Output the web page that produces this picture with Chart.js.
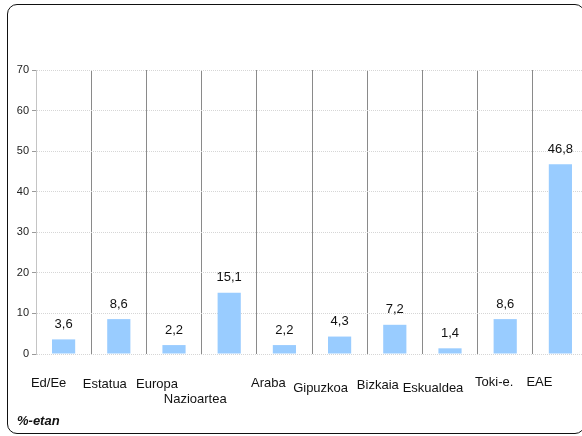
<!DOCTYPE html>
<html>
<head>
<meta charset="utf-8">
<script src="https://cdn.jsdelivr.net/npm/chart.js@4"></script>
<style>
  html, body { margin: 0; padding: 0; background: #fff; overflow: hidden; }
  #wrap { position: relative; width: 600px; height: 436px; }
  #frame {
    position: absolute; left: 7px; top: 4px; width: 576px; height: 428px;
    border: 1.5px solid #111; border-radius: 10px; pointer-events: none;
  }
  #unit {
    position: absolute; left: 17px; top: 413px;
    font: italic bold 13px "Liberation Sans", Arial, sans-serif; color: #111;
  }
</style>
</head>
<body>
<div id="wrap">
  <canvas id="myChart" width="600" height="436"></canvas>
  <div id="frame"></div>
  <div id="unit">%-etan</div>
</div>
<script>
const categories = ['Ed/Ee', 'Estatua', 'Europa', 'Nazioartea', 'Araba', 'Gipuzkoa', 'Bizkaia', 'Eskualdea', 'Toki-e.', 'EAE'];
const values = [3.6, 8.6, 2.2, 15.1, 2.2, 4.3, 7.2, 1.4, 8.6, 46.8];
const yTicks = [0, 10, 20, 30, 40, 50, 60, 70];

// where each category label sits relative to its bar (the original is staggered)
const labelShift = [[-15, 29], [-14, 30], [-17, 30], [-34, 45], [-16, 29], [-19, 34], [-17, 31], [-17, 34], [-11, 28], [-21, 28]];

const FONT = '"Liberation Sans", Arial, sans-serif';

const valueLabels = {
  id: 'valueLabels',
  afterDatasetsDraw(chart) {
    const ctx = chart.ctx;
    const meta = chart.getDatasetMeta(0);
    ctx.save();
    ctx.font = '13px ' + FONT;
    ctx.fillStyle = '#111';
    ctx.textAlign = 'center';
    ctx.textBaseline = 'middle';
    meta.data.forEach((bar, i) => {
      ctx.fillText(values[i].toFixed(1).replace('.', ','), bar.x, bar.y - 15);
    });
    ctx.restore();
  }
};

const catLabels = {
  id: 'catLabels',
  afterDraw(chart) {
    const ctx = chart.ctx;
    const xs = chart.scales.x;
    const base = chart.scales.y.getPixelForValue(0);
    ctx.save();
    ctx.font = '13px ' + FONT;
    ctx.fillStyle = '#111';
    ctx.textAlign = 'center';
    ctx.textBaseline = 'middle';
    categories.forEach((c, i) => {
      const s = labelShift[i];
      ctx.fillText(c, xs.getPixelForValue(i) + s[0], base + s[1]);
    });
    ctx.restore();
  }
};

const data = {
  labels: categories,
  datasets: [{
    data: values,
    backgroundColor: '#99ccff',
    borderWidth: 0,
    barPercentage: 0.42,
    categoryPercentage: 1
  }]
};

const config = {
  type: 'bar',
  data: data,
  plugins: [valueLabels, catLabels],
  options: {
    responsive: false,
    animation: false,
    layout: { padding: { top: 70, right: 12, left: 0, bottom: 0 } },
    plugins: { legend: { display: false }, tooltip: { enabled: false } },
    scales: {
      x: {
        offset: true,
        ticks: { display: false },
        border: { display: false },
        grid: {
          offset: true,
          drawTicks: false,
          color: (c) => (c.index === 0 || c.index === categories.length) ? 'rgba(0,0,0,0)' : '#8a8a8a',
          lineWidth: 1
        },
        afterFit(scale) { scale.height = 82; }
      },
      y: {
        min: 0,
        max: 70,
        afterBuildTicks(scale) { scale.ticks = yTicks.map(v => ({ value: v })); },
        ticks: { font: { size: 11, family: FONT }, color: '#222', padding: 3 },
        border: { display: true, color: '#c4c4c4', width: 1, dash: [1, 1] },
        grid: {
          color: '#d6d6d6',
          tickLength: 4,
          tickColor: '#999',
          tickBorderDash: []
        },
        afterFit(scale) { scale.width = 36; }
      }
    }
  }
};

const myChart = new Chart(document.getElementById('myChart'), config);
</script>
</body>
</html>
